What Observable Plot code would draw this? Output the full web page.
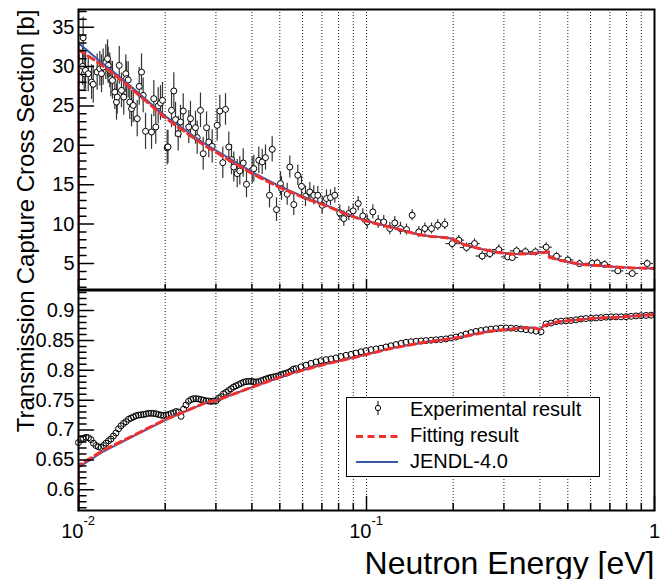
<!DOCTYPE html>
<html>
<head>
<meta charset="utf-8">
<script src="https://cdn.jsdelivr.net/npm/d3@7"></script>
<script src="https://cdn.jsdelivr.net/npm/@observablehq/plot@0.6"></script>
<style>
  body { margin: 0; background: #fff; }
  #chart { position: relative; width: 663px; height: 579px; font-family: "Liberation Sans", Arial, Helvetica, sans-serif; }
  #chart .pane { position: absolute; left: 0; }
  #chart svg { overflow: visible; }
</style>
</head>
<body>
<div id="chart"></div>
<script>
// ---------------- Capture cross section (upper pad) ----------------
// Experimental points: neutron energy [eV], cross section [b], vertical and horizontal uncertainties
const capE = [0.01033, 0.01038, 0.01047, 0.01058, 0.01081, 0.01110, 0.01125, 0.01161, 0.01186, 0.01202,
  0.01218, 0.01244, 0.01261, 0.01268, 0.01284, 0.01295, 0.01312, 0.01337, 0.01355, 0.01363,
  0.01385, 0.01410, 0.01436, 0.01460, 0.01468, 0.01488, 0.01507, 0.01528, 0.01549, 0.01599,
  0.01625, 0.01655, 0.01677, 0.01709, 0.01793, 0.01826, 0.01855, 0.01891, 0.01926, 0.01957,
  0.02032, 0.02045, 0.02104, 0.02143, 0.02172, 0.02219, 0.02260, 0.02310, 0.02415, 0.02448,
  0.02548, 0.02583, 0.02652, 0.02710, 0.02783, 0.02834, 0.02912, 0.03031, 0.03095, 0.03170,
  0.03239, 0.03326, 0.03398, 0.03461, 0.03557, 0.03631, 0.03732, 0.03831, 0.04010, 0.04062,
  0.04227, 0.04344, 0.04460, 0.04605, 0.04705, 0.04870, 0.05028, 0.05069, 0.05305, 0.05416,
  0.05592, 0.05774, 0.05947, 0.06141, 0.06356, 0.06562, 0.06775, 0.07018, 0.07263, 0.07499,
  0.07762, 0.08078, 0.08341, 0.08681, 0.08992, 0.09358, 0.09709, 0.1006, 0.1052, 0.1098,
  0.1148, 0.1205, 0.1254, 0.1312, 0.1377, 0.1441, 0.1519, 0.1594, 0.1682, 0.1768,
  0.1870, 0.1984, 0.2092, 0.2225, 0.2372, 0.2522, 0.2680, 0.2880, 0.3095, 0.3206,
  0.3318, 0.3565, 0.3862, 0.4207, 0.4568, 0.5000, 0.5490, 0.6077, 0.6325, 0.6705,
  0.7458, 0.8369, 0.9433];
const capSigma = [30.02, 33.65, 29.09, 29.51, 29.09, 28.03, 27.74, 29.30, 29.72, 29.09,
  29.93, 30.57, 30.99, 30.14, 29.51, 28.45, 28.24, 26.76, 25.49, 26.13,
  30.14, 26.97, 26.13, 29.09, 28.45, 28.30, 25.49, 24.65, 25.07, 23.38,
  27.48, 29.30, 26.34, 21.78, 21.69, 25.92, 22.33, 25.00, 25.37, 25.71,
  19.70, 19.80, 24.44, 26.90, 23.26, 21.48, 22.96, 24.35, 22.32, 23.38,
  22.24, 20.98, 24.44, 18.94, 22.24, 20.42, 19.87, 22.54, 24.35, 17.80,
  24.56, 19.79, 18.18, 17.25, 16.41, 16.75, 17.76, 15.05, 16.83, 17.04,
  18.10, 17.89, 18.44, 13.66, 19.49, 11.84, 15.14, 14.51, 13.79, 17.25,
  12.48, 16.20, 14.80, 13.53, 14.08, 13.66, 13.66, 12.39, 13.24, 13.37,
  13.66, 11.42, 10.70, 11.34, 11.68, 12.61, 11.04, 10.28, 11.55, 10.28,
  10.28, 9.44, 10.15, 9.44, 9.31, 11.13, 9.01, 9.44, 9.44, 9.86,
  9.98, 7.53, 7.96, 7.03, 7.53, 5.95, 6.25, 6.77, 5.84, 5.76,
  6.61, 6.50, 6.48, 7.07, 5.93, 5.45, 4.98, 5.03, 5.08, 4.88,
  4.07, 3.73, 5.00];
const capErr = [2.4, 2.6, 2.3, 2.4, 2.3, 2.2, 2.4, 2.3, 2.2, 2.4,
  2.3, 2.2, 2.4, 2.3, 2.2, 2.3, 2.4, 2.2, 2.3, 2.2,
  2.4, 2.2, 2.3, 2.4, 2.2, 2.3, 2.2, 2.3, 2.2, 2.3,
  2.4, 2.3, 2.2, 2.3, 2.2, 2.3, 2.2, 2.3, 2.2, 2.3,
  2.2, 2.1, 2.2, 2.3, 2.2, 2.2, 2.1, 2.2, 2.1, 2.2,
  2.1, 2.1, 2.2, 2.1, 2.0, 2.0, 2.1, 2.0, 2.0, 2.0,
  2.0, 1.9, 1.9, 1.9, 1.8, 1.8, 1.8, 1.7, 1.7, 1.7,
  1.7, 1.6, 1.6, 1.6, 1.6, 1.5, 1.5, 1.5, 1.4, 1.4,
  1.4, 1.3, 1.3, 1.3, 1.2, 1.2, 1.1, 1.1, 1.1, 1.0,
  1.0, 1.0, 1.0, 0.9, 0.9, 0.9, 0.9, 0.9, 0.9, 0.8,
  0.8, 0.8, 0.8, 0.8, 0.7, 0.7, 0.7, 0.7, 0.7, 0.7,
  0.7, 0.7, 0.6, 0.6, 0.6, 0.6, 0.6, 0.6, 0.5, 0.5,
  0.5, 0.5, 0.5, 0.55, 0.5, 0.45, 0.45, 0.45, 0.45, 0.45,
  0.45, 0.45, 0.45];
const capEx = [0, 0, 0, 0, 0, 0, 0, 0, 0, 0,
  0, 0, 0, 0, 0, 0, 0, 0, 0, 0,
  0, 0, 0, 0, 0, 0, 0, 0, 0, 0,
  0, 0, 0, 0, 0, 0, 0, 0, 0, 0,
  0, 0, 0, 0, 0, 0, 0, 0, 0, 0,
  0, 0, 0, 0, 0, 0, 0, 0, 0, 0,
  0, 0, 0, 0, 0, 0, 0, 0, 0, 0,
  0, 0, 0, 0, 0, 0, 0, 0, 0, 0,
  0, 0, 0, 0, 0, 0, 0, 0, 0, 0,
  0, 0, 0, 0, 0, 0, 0, 0, 0, 0,
  0, 0, 0, 0, 0, 0, 0, 0, 0, 0,
  0, 0.0095, 0.010, 0.011, 0.011, 0.012, 0.013, 0.014, 0.015, 0.016,
  0.016, 0.017, 0.019, 0.021, 0.022, 0.025, 0.027, 0.030, 0.031, 0.033,
  0.037, 0.042, 0.048];

// Evaluated curves for the capture cross section
const capFitE = [0.01, 0.01, 0.01171, 0.01392, 0.0202, 0.02745, 0.0406, 0.0503, 0.0621, 0.075,
  0.088, 0.1005, 0.1275, 0.15, 0.1667, 0.19, 0.2019, 0.2175, 0.242, 0.26,
  0.2843, 0.3258, 0.371, 0.4297, 0.431, 0.4716, 0.5108, 0.5535, 0.6324, 0.7224,
  0.8254, 1.0];
const capFitSigma = [0, 32.13, 30.5, 28.45, 23.38, 19.95, 16.3, 14.6, 13.2, 12.1,
  11.05, 10.35, 9.4, 8.7, 8.44, 8.27, 8.0, 7.42, 6.97, 6.72,
  6.42, 6.18, 6.25, 6.46, 5.8, 5.42, 5.13, 4.9, 4.75, 4.58,
  4.45, 4.37];
const capJendlE = [0.01, 0.01, 0.01171, 0.01392, 0.0202, 0.02745, 0.0406, 0.0503, 0.0621, 0.075,
  0.088, 0.1005, 0.1275, 0.15, 0.1667, 0.19, 0.2019, 0.2175, 0.242, 0.26,
  0.2843, 0.3258, 0.371, 0.4297, 0.431, 0.4716, 0.5108, 0.5535, 0.6324, 0.7224,
  0.8254, 1.0];
const capJendlSigma = [0, 32.98, 30.86, 28.66, 23.59, 20.2, 16.5, 14.75, 13.3, 12.18,
  11.13, 10.4, 9.44, 8.72, 8.46, 8.29, 8.04, 7.41, 6.95, 6.72,
  6.42, 6.2, 6.27, 6.48, 5.8, 5.42, 5.13, 4.9, 4.75, 4.58,
  4.45, 4.37];

// ---------------- Transmission (lower pad) ----------------
const transE = [0.01000, 0.01020, 0.01041, 0.01062, 0.01083, 0.01105, 0.01127, 0.01150, 0.01173, 0.01197,
  0.01221, 0.01246, 0.01271, 0.01296, 0.01322, 0.01349, 0.01377, 0.01404, 0.01433, 0.01462,
  0.01492, 0.01522, 0.01552, 0.01584, 0.01616, 0.01648, 0.01682, 0.01716, 0.01750, 0.01786,
  0.01822, 0.01858, 0.01896, 0.01934, 0.01973, 0.02013, 0.02054, 0.02095, 0.02138, 0.02181,
  0.02225, 0.02270, 0.02316, 0.02362, 0.02410, 0.02459, 0.02508, 0.02559, 0.02611, 0.02663,
  0.02717, 0.02772, 0.02828, 0.02885, 0.02943, 0.03003, 0.03063, 0.03125, 0.03188, 0.03253,
  0.03318, 0.03385, 0.03454, 0.03524, 0.03595, 0.03667, 0.03741, 0.03817, 0.03894, 0.03973,
  0.04053, 0.04135, 0.04218, 0.04304, 0.04391, 0.04479, 0.04570, 0.04662, 0.04756, 0.04852,
  0.04950, 0.05050, 0.05152, 0.05256, 0.05363, 0.05471, 0.05581, 0.05694,
  0.05924, 0.06165, 0.06417, 0.06679, 0.06951, 0.07235, 0.07530, 0.07837, 0.08157, 0.08490,
  0.08836, 0.09196, 0.09571, 0.09962, 0.1037, 0.1079, 0.1123, 0.1169, 0.1216, 0.1266,
  0.1318, 0.1371, 0.1427, 0.1486, 0.1546, 0.1609, 0.1675, 0.1743, 0.1814, 0.1888,
  0.1965, 0.2045, 0.2129, 0.2216, 0.2306, 0.2400, 0.2498, 0.2600, 0.2706, 0.2816,
  0.2931, 0.3051, 0.3175, 0.3305, 0.3440, 0.3580, 0.3726, 0.3878, 0.4036, 0.4201,
  0.4372, 0.4550, 0.4736, 0.4929, 0.5130, 0.5340, 0.5557, 0.5784, 0.6020, 0.6266,
  0.6521, 0.6787, 0.7064, 0.7352, 0.7652, 0.7964, 0.8289, 0.8627, 0.8979, 0.9345,
  0.9726];
const transT = [0.679, 0.684, 0.686, 0.688, 0.687, 0.684, 0.678, 0.674, 0.672, 0.671,
  0.674, 0.678, 0.682, 0.685, 0.690, 0.695, 0.702, 0.707, 0.711, 0.714,
  0.718, 0.720, 0.722, 0.724, 0.725, 0.7255, 0.726, 0.727, 0.728, 0.728,
  0.7278, 0.7272, 0.726, 0.725, 0.7243, 0.725, 0.726, 0.7275, 0.729, 0.731,
  0.730, 0.723, 0.735, 0.742, 0.748, 0.751, 0.7525, 0.7525, 0.752, 0.751,
  0.750, 0.749, 0.7485, 0.748, 0.7485, 0.749, 0.753, 0.756, 0.7606, 0.763,
  0.766, 0.769, 0.772, 0.774, 0.776, 0.778, 0.780, 0.781, 0.7815, 0.7815,
  0.781, 0.7803, 0.781, 0.7825, 0.784, 0.7855, 0.787, 0.788, 0.789, 0.7895,
  0.791, 0.7925, 0.794, 0.795, 0.7965, 0.799, 0.802, 0.8028,
  0.8057, 0.8085, 0.8115, 0.814, 0.816, 0.8178, 0.819, 0.8207, 0.823, 0.825,
  0.8266, 0.8288, 0.831, 0.8328, 0.8345, 0.8357, 0.837, 0.839, 0.841, 0.843,
  0.845, 0.8468, 0.8477, 0.8485, 0.849, 0.8497, 0.8503, 0.851, 0.8516, 0.8525,
  0.8542, 0.8556, 0.858, 0.8607, 0.863, 0.865, 0.8665, 0.8678, 0.8688, 0.8697,
  0.8706, 0.8708, 0.8705, 0.870, 0.8692, 0.868, 0.867, 0.8655, 0.8645, 0.8775,
  0.879, 0.8815, 0.8822, 0.8827, 0.8833, 0.8845, 0.8858, 0.8866, 0.887, 0.8876,
  0.8882, 0.8889, 0.8894, 0.8894, 0.8894, 0.8897, 0.8903, 0.891, 0.8914, 0.8918,
  0.8922];

const transFitE = [0.01, 0.01, 0.01224, 0.01476, 0.02032, 0.02278, 0.02798, 0.03015, 0.0415, 0.0545,
  0.0711, 0.0928, 0.1211, 0.158, 0.2064, 0.2695, 0.3519, 0.385, 0.400, 0.412,
  0.4593, 0.5995, 0.7825, 1.0];
const transFitT = [0.50, 0.6407, 0.6665, 0.6858, 0.7190, 0.7287, 0.7468, 0.7496, 0.7745, 0.7946,
  0.8097, 0.8225, 0.8364, 0.8465, 0.8543, 0.8654, 0.8710, 0.8706, 0.8682, 0.8745,
  0.8810, 0.8866, 0.8894, 0.8933];
const transJendlE = [0.01, 0.01, 0.01224, 0.01476, 0.02032, 0.02278, 0.02798, 0.03015, 0.0415, 0.0545,
  0.0711, 0.0928, 0.1211, 0.158, 0.2064, 0.2695, 0.3519, 0.385, 0.400, 0.412,
  0.4593, 0.5995, 0.7825, 1.0];
const transJendlT = [0.50, 0.6375, 0.6645, 0.6845, 0.7182, 0.7282, 0.7466, 0.7494, 0.7745, 0.7946,
  0.8099, 0.8228, 0.8368, 0.8470, 0.8548, 0.8658, 0.8714, 0.8710, 0.8686, 0.8748,
  0.8812, 0.8868, 0.8896, 0.8935];

// Axis ticks and labels
const xGrid = [0.02, 0.03, 0.04, 0.05, 0.06, 0.07, 0.08, 0.09, 0.1, 0.2, 0.3, 0.4, 0.5, 0.6, 0.7, 0.8, 0.9];
const xMinor = [0.02, 0.03, 0.04, 0.05, 0.06, 0.07, 0.08, 0.09, 0.2, 0.3, 0.4, 0.5, 0.6, 0.7, 0.8, 0.9];
const xMajor = [0.01, 0.1, 1];
const xDecadeLabels = [{E: 0.01, base: "10", exp: "-2"}, {E: 0.1, base: "10", exp: "-1"}];
const capMajor = [5, 10, 15, 20, 25, 30, 35];
const capMinor = d3.range(2, 38).filter(v => v % 5 !== 0);
const transMajor = [0.6, 0.65, 0.7, 0.75, 0.8, 0.85, 0.9];
const transTickText = ["0.6", "0.65", "0.7", "0.75", "0.8", "0.85", "0.9"];
const transMinor = d3.range(57, 94).filter(v => v % 5 !== 0).map(v => v / 100);

const legendLabels = ["Experimental result", "Fitting result", "JENDL-4.0"];
const yTitles = {cap: "Capture Cross Section [b]", trans: "Transmission"};
const xTitle = "Neutron Energy [eV]";

// ---------------- drawing ----------------
const red = "#f0302c";
const blue = "#3b57a8";
const font = "'Liberation Sans', Arial, Helvetica, sans-serif";

const rows = (E, V) => E.map((e, i) => ({E: e, v: V[i]}));
const capPoints = capE.map((E, i) => ({E, v: capSigma[i], err: capErr[i], ex: capEx[i]}));
const transPoints = rows(transE, transT);

// tick shapes for vector marks (ticks point into the frame)
const tickUp = {draw(ctx, l) { ctx.moveTo(0, 0); ctx.lineTo(0, -l); }};
const tickRight = {draw(ctx, l) { ctx.moveTo(0, 0); ctx.lineTo(l, 0); }};

function frameMarks({yMajor, yMinor, yText, xMajorLen, xMinorLen}) {
  return [
    Plot.vector(yMinor, {y: d => d, frameAnchor: "left", length: 7.5, anchor: "start", shape: tickRight, stroke: "black"}),
    Plot.vector(yMajor, {y: d => d, frameAnchor: "left", length: 15, anchor: "start", shape: tickRight, stroke: "black"}),
    Plot.vector(xMinor, {x: d => d, frameAnchor: "bottom", length: xMinorLen, anchor: "start", shape: tickUp, stroke: "black"}),
    Plot.vector(xMajor, {x: d => d, frameAnchor: "bottom", length: xMajorLen, anchor: "start", shape: tickUp, stroke: "black"}),
    Plot.text(yMajor, {y: d => d, frameAnchor: "left", dx: -4, textAnchor: "end", text: (d, i) => yText[i], fontSize: 20, fill: "black"}),
    Plot.frame({stroke: "black", strokeWidth: 2})
  ];
}

const chart = document.getElementById("chart");

const topPlot = Plot.plot({
  width: 663, height: 290,
  marginLeft: 78, marginRight: 9, marginTop: 9, marginBottom: 1,
  style: {fontFamily: font, background: "transparent", overflow: "visible"},
  x: {type: "log", domain: [0.01, 1], axis: null},
  y: {domain: [1.7, 37.24], axis: null},
  marks: [
    Plot.ruleX(xGrid, {x: d => d, stroke: "#222", strokeDasharray: "1,2", strokeWidth: 1}),
    Plot.ruleX(capPoints, {x: "E", y1: d => d.v - d.err, y2: d => d.v + d.err, stroke: "#333", strokeWidth: 1.2, clip: true}),
    Plot.ruleY(capPoints.filter(d => d.ex > 0), {y: "v", x1: d => d.E - d.ex, x2: d => d.E + d.ex, stroke: "#333", strokeWidth: 1.2}),
    Plot.dot(capPoints, {x: "E", y: "v", r: 3, stroke: "black", fill: "white", strokeWidth: 1}),
    Plot.line(rows(capJendlE, capJendlSigma), {x: "E", y: "v", stroke: blue, strokeWidth: 2, clip: true}),
    Plot.line(rows(capFitE, capFitSigma), {x: "E", y: "v", stroke: red, strokeWidth: 3, strokeDasharray: "7,4.5", clip: true}),
    ...frameMarks({yMajor: capMajor, yMinor: capMinor, yText: capMajor.map(String), xMajorLen: 10, xMinorLen: 5}),
    Plot.text([yTitles.cap], {frameAnchor: "top-left", rotate: -90, textAnchor: "end", lineAnchor: "bottom", dx: -44.5, fontSize: 24, fill: "black", text: d => d})
  ]
});

const bottomPlot = Plot.plot({
  width: 663, height: 290,
  marginLeft: 78, marginRight: 9, marginTop: 1, marginBottom: 69,
  style: {fontFamily: font, background: "transparent", overflow: "visible"},
  x: {type: "log", domain: [0.01, 1], axis: null},
  y: {domain: [0.5654, 0.9335], axis: null},
  marks: [
    Plot.ruleX(xGrid, {x: d => d, stroke: "#222", strokeDasharray: "1,2", strokeWidth: 1}),
    Plot.dot(transPoints, {x: "E", y: "v", r: 3, stroke: "black", fill: "none", strokeWidth: 1}),
    Plot.line(rows(transJendlE, transJendlT), {x: "E", y: "v", stroke: blue, strokeWidth: 2, clip: true}),
    Plot.line(rows(transFitE, transFitT), {x: "E", y: "v", stroke: red, strokeWidth: 3, strokeDasharray: "7,4.5", clip: true}),
    ...frameMarks({yMajor: transMajor, yMinor: transMinor, yText: transTickText, xMajorLen: 14, xMinorLen: 7}),
    Plot.text(xDecadeLabels, {x: "E", frameAnchor: "bottom", text: "base", textAnchor: "end", lineAnchor: "bottom", dx: 5, dy: 27, fontSize: 20, fill: "black"}),
    Plot.text(xDecadeLabels, {x: "E", frameAnchor: "bottom", text: "exp", textAnchor: "start", lineAnchor: "bottom", dx: 5, dy: 14, fontSize: 13, fill: "black"}),
    Plot.text([1], {x: d => d, frameAnchor: "bottom", text: d => String(d), textAnchor: "middle", lineAnchor: "bottom", dy: 27, fontSize: 20, fill: "black"}),
    Plot.text([yTitles.trans], {frameAnchor: "top-left", rotate: -90, textAnchor: "end", lineAnchor: "bottom", dx: -44.5, fontSize: 24, fill: "black", text: d => d}),
    Plot.text([xTitle], {frameAnchor: "bottom-right", textAnchor: "end", lineAnchor: "bottom", dy: 63, fontSize: 32, fill: "black", text: d => d})
  ]
});

function pane(node, top) {
  const div = document.createElement("div");
  div.className = "pane";
  div.style.top = top + "px";
  div.appendChild(node);
  chart.appendChild(div);
}
pane(bottomPlot, 289);
pane(topPlot, 0);

// Legend box inside the lower pad
const leg = d3.select(chart).append("svg")
  .attr("width", 256).attr("height", 82)
  .style("position", "absolute").style("left", "346px").style("top", "397px")
  .style("font-family", font);
leg.append("rect").attr("x", 0.5).attr("y", 0.5).attr("width", 253).attr("height", 79)
  .attr("fill", "white").attr("stroke", "black").attr("stroke-width", 1);
// experimental marker with error bar
leg.append("line").attr("x1", 32).attr("x2", 32).attr("y1", 4).attr("y2", 18).attr("stroke", "black");
leg.append("circle").attr("cx", 32).attr("cy", 11).attr("r", 2.6).attr("fill", "white").attr("stroke", "black");
leg.append("line").attr("x1", 10).attr("x2", 52).attr("y1", 39.5).attr("y2", 39.5)
  .attr("stroke", red).attr("stroke-width", 3).attr("stroke-dasharray", "7,4.5");
leg.append("line").attr("x1", 10).attr("x2", 52).attr("y1", 65).attr("y2", 65)
  .attr("stroke", blue).attr("stroke-width", 2);
leg.selectAll("text.lab").data(legendLabels).join("text")
  .attr("class", "lab")
  .attr("x", 64).attr("y", (d, i) => [18.5, 44.5, 70.5][i])
  .attr("font-size", 20).attr("fill", "black")
  .text(d => d);
</script>
</body>
</html>
